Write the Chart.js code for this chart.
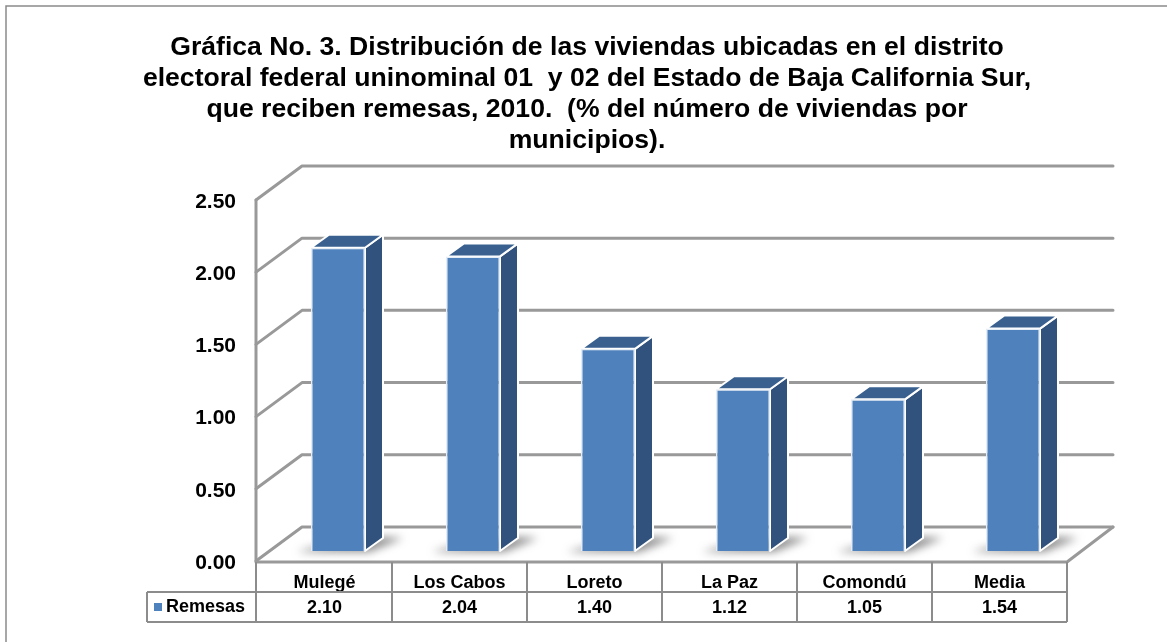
<!DOCTYPE html>
<html><head><meta charset="utf-8">
<style>html,body{margin:0;padding:0;background:#fff}canvas{display:block;filter:blur(0.35px)}</style>
<script src="https://cdn.jsdelivr.net/npm/chart.js@4"></script>
</head><body><canvas id="c" width="1167" height="642"></canvas>
<script>
const categories=['Mulegé','Los Cabos','Loreto','La Paz','Comondú','Media'];
const seriesName='Remesas';
const remesas=[2.10,2.04,1.40,1.12,1.05,1.54];
const tickValues=[0,0.5,1,1.5,2,2.5];
const titleLines=['Gráfica No. 3. Distribución de las viviendas ubicadas en el distrito','electoral federal uninominal 01  y 02 del Estado de Baja California Sur,','que reciben remesas, 2010.  (% del número de viviendas por','municipios).'];
const FONT='"Liberation Sans", Arial, sans-serif';
const GRID='#999999', TABLE='#8c8c8c';
const WALL={dx:46,dy:-34}, FLOOR={dx:13.5,dy:-10}, BAR={dx:18,dy:-13};

const scene={
 id:'scene',
 beforeDraw(ch){
  const c=ch.ctx,{left,right,top,bottom}=ch.chartArea,y=ch.scales.y;
  c.save();
  c.fillStyle='#fff';c.fillRect(0,0,ch.width,ch.height);
  c.strokeStyle='#8a8a8a';c.lineWidth=1.5;
  c.beginPath();c.moveTo(6,642);c.lineTo(6,6);c.lineTo(1167,6);c.stroke();
  c.lineCap='round';c.lineJoin='round';
  c.strokeStyle=GRID;c.lineWidth=3;
  tickValues.forEach(v=>{const p=y.getPixelForValue(v);
   c.beginPath();c.moveTo(left-1,p);c.lineTo(left-1+WALL.dx,p+WALL.dy);c.lineTo(right+WALL.dx,p+WALL.dy);c.stroke();});
  c.beginPath();c.moveTo(left-1,top);c.lineTo(left-1,bottom+1);c.lineTo(right,bottom+1);c.lineTo(right+WALL.dx,bottom+WALL.dy);c.stroke();
  c.restore();
 },
 beforeDatasetsDraw(ch){
  const c=ch.ctx,els=ch.getDatasetMeta(0).data;
  c.save();
  els.forEach(b=>{const l=b.x-b.width/2+FLOOR.dx,r=b.x+b.width/2+FLOOR.dx,f=b.base+FLOOR.dy;
   c.save();c.filter='blur(4px)';c.fillStyle='rgba(80,80,80,.65)';
   c.beginPath();c.moveTo(l-14,f+1);c.lineTo(r+4,f+1);c.lineTo(r+BAR.dx+20,f+BAR.dy);c.lineTo(r+BAR.dx,f+BAR.dy-1);c.lineTo(l,f-3);c.closePath();c.fill();c.restore();});
  els.forEach(b=>{const l=b.x-b.width/2+FLOOR.dx,r=b.x+b.width/2+FLOOR.dx,t=b.y+FLOOR.dy,f=b.base+FLOOR.dy;
   const d=BAR;
   c.lineJoin='round';
   c.fillStyle='#30527c';c.strokeStyle='#fff';c.lineWidth=2;
   c.beginPath();c.moveTo(r,t);c.lineTo(r+d.dx,t+d.dy);c.lineTo(r+d.dx,f+d.dy);c.lineTo(r,f);c.closePath();c.fill();c.stroke();
   c.fillStyle='#39608f';
   c.beginPath();c.moveTo(l,t);c.lineTo(l+d.dx,t+d.dy);c.lineTo(r+d.dx,t+d.dy);c.lineTo(r,t);c.closePath();c.fill();c.stroke();
  });
  c.restore();
  c.save();c.translate(FLOOR.dx,FLOOR.dy);
 },
 afterDatasetsDraw(ch){
  ch.ctx.restore();
 },
 afterDraw(ch){
  const c=ch.ctx,{left,right,bottom}=ch.chartArea,x=ch.scales.x;
  const r1=592,r2=622,hdrTop=bottom+1,legendLeft=147;
  c.save();
  c.strokeStyle=TABLE;c.lineWidth=2;
  c.beginPath();
  c.moveTo(legendLeft,r1);c.lineTo(right,r1);
  c.moveTo(legendLeft,r2);c.lineTo(right,r2);
  c.moveTo(legendLeft,r1);c.lineTo(legendLeft,r2);
  const w=(right-left)/categories.length;
  for(let i=0;i<=categories.length;i++){const px=left-1+i*w+(i?1:0);c.moveTo(px,hdrTop);c.lineTo(px,r2);}
  c.stroke();
  c.fillStyle='#000';c.font='bold 18px '+FONT;c.textAlign='center';c.textBaseline='middle';
  remesas.forEach((v,i)=>c.fillText(v.toFixed(2),x.getPixelForValue(i),(r1+r2)/2+1));
  c.textAlign='left';c.fillText(seriesName,166,(r1+r2)/2);
  c.fillStyle='#4f81bd';c.fillRect(154,603,8,8);
  c.restore();
 }
};

new Chart(document.getElementById('c'),{
 type:'bar',
 data:{labels:categories,datasets:[{label:seriesName,data:remesas,backgroundColor:'#4f81bd',borderColor:'#e4ecf5',borderWidth:1.5,barPercentage:0.4,categoryPercentage:1}]},
 options:{
  responsive:false,animation:false,devicePixelRatio:1,
  layout:{padding:{left:107,right:100,top:8,bottom:50}},
  plugins:{legend:{display:false},tooltip:{enabled:false},
   title:{display:true,text:titleLines,color:'#000',font:{family:FONT,size:26.6,weight:'bold',lineHeight:1.165},padding:{top:24,bottom:44}}},
  scales:{
   x:{grid:{display:false},border:{display:false},
      afterFit(s){s.height=31;},
      ticks:{color:'#000',font:{family:FONT,size:18,weight:'bold'},padding:3,maxRotation:0}},
   y:{min:0,max:2.5,grid:{display:false},border:{display:false},
      afterFit(s){s.width=150;},
      afterBuildTicks(s){s.ticks=tickValues.map(v=>({value:v}));},
      ticks:{color:'#000',font:{family:FONT,size:21,weight:'bold'},padding:13,labelOffset:2,callback:v=>v.toFixed(2)}}
  }
 },
 plugins:[scene]
});
</script></body></html>
